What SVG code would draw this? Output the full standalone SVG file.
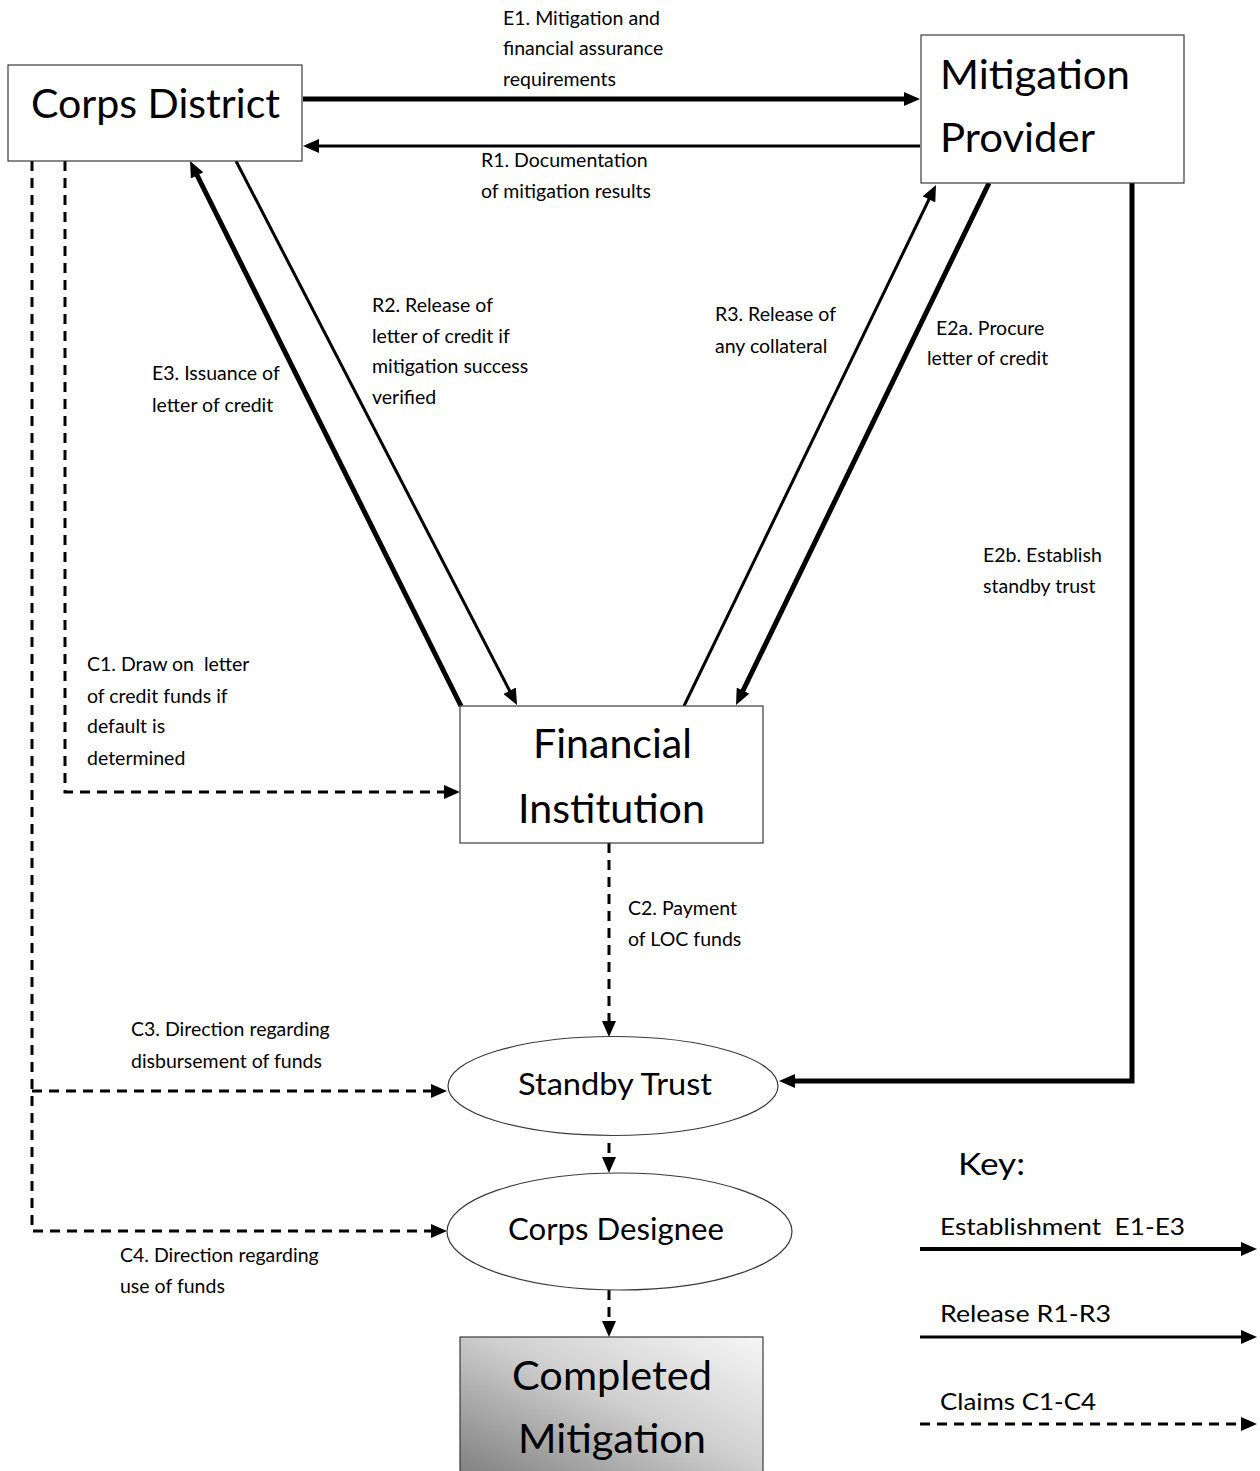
<svg xmlns="http://www.w3.org/2000/svg" width="1260" height="1471" viewBox="0 0 1260 1471">
<style>
text{font-family:Lato,"Open Sans","Liberation Sans",sans-serif;fill:#000}
.lbl{font-size:19.5px}
.big{font-size:40px}
.mid{font-size:30px}
.key{font-size:24px}
.box{fill:#fff;stroke:#3a3a3a;stroke-width:1.2}
.c{fill:none;stroke:#000}
.th{stroke-width:5}
.tn{stroke-width:3}
.ds{stroke-width:3;stroke-dasharray:10 7}
</style>
<defs>
<marker id="ah" markerUnits="userSpaceOnUse" markerWidth="16" markerHeight="14" refX="6" refY="7" orient="auto">
<path d="M0,0 L16,7 L0,14 z" fill="#000"/>
</marker>
<linearGradient id="gr" x1="0" y1="1" x2="1" y2="0">
<stop offset="0" stop-color="#7c7c7c"/>
<stop offset="0.55" stop-color="#d0d0d0"/>
<stop offset="1" stop-color="#f6f6f6"/>
</linearGradient>
</defs>

<g id="connectors">
<line class="c th" x1="303" y1="99" x2="910" y2="99" marker-end="url(#ah)"/>
<line class="c tn" x1="920" y1="146" x2="313" y2="146" marker-end="url(#ah)"/>
<line class="c th" x1="461" y1="706" x2="194.5" y2="170" marker-end="url(#ah)"/>
<line class="c tn" x1="236" y1="161" x2="512.4" y2="696.1" marker-end="url(#ah)"/>
<line class="c tn" x1="684" y1="706" x2="931.6" y2="194" marker-end="url(#ah)"/>
<line class="c th" x1="989" y1="183" x2="740.4" y2="696" marker-end="url(#ah)"/>
<polyline class="c th" points="1132,183 1132,1081 789,1081" marker-end="url(#ah)"/>
<polyline class="c ds" points="32,161 32,1231 437,1231" marker-end="url(#ah)"/>
<line class="c ds" x1="32" y1="1091" x2="437" y2="1091" marker-end="url(#ah)"/>
<polyline class="c ds" points="65,161 65,792 450,792" marker-end="url(#ah)"/>
<line class="c ds" x1="609" y1="843" x2="609" y2="1027" marker-end="url(#ah)"/>
<line class="c ds" x1="609" y1="1143" x2="609" y2="1163" marker-end="url(#ah)"/>
<line class="c ds" x1="609" y1="1290" x2="609" y2="1327" marker-end="url(#ah)"/>
</g>

<g id="labels">
<text class="lbl" x="503" y="25">E1. Mitigation and</text>
<text class="lbl" x="503" y="55">financial assurance</text>
<text class="lbl" x="503" y="86">requirements</text>
<text class="lbl" x="481" y="167">R1. Documentation</text>
<text class="lbl" x="481" y="198">of mitigation results</text>
<text class="lbl" x="372" y="312">R2. Release of</text>
<text class="lbl" x="372" y="343">letter of credit if</text>
<text class="lbl" x="372" y="373">mitigation success</text>
<text class="lbl" x="372" y="404">verified</text>
<text class="lbl" x="152" y="380">E3. Issuance of</text>
<text class="lbl" x="152" y="412">letter of credit</text>
<text class="lbl" x="715" y="321">R3. Release of</text>
<text class="lbl" x="715" y="353">any collateral</text>
<text class="lbl" x="936" y="335">E2a. Procure</text>
<text class="lbl" x="927" y="365">letter of credit</text>
<text class="lbl" x="983" y="562">E2b. Establish</text>
<text class="lbl" x="983" y="593">standby trust</text>
<text class="lbl" x="87" y="671" xml:space="preserve">C1. Draw on  letter</text>
<text class="lbl" x="87" y="703">of credit funds if</text>
<text class="lbl" x="87" y="733">default is</text>
<text class="lbl" x="87" y="765">determined</text>
<text class="lbl" x="628" y="915">C2. Payment</text>
<text class="lbl" x="628" y="946">of LOC funds</text>
<text class="lbl" x="131" y="1036">C3. Direction regarding</text>
<text class="lbl" x="131" y="1068">disbursement of funds</text>
<text class="lbl" x="120" y="1262">C4. Direction regarding</text>
<text class="lbl" x="120" y="1293">use of funds</text>
</g>

<g id="corps-district">
<rect class="box" x="8" y="65" width="294" height="96"/>
<text class="big" x="31" y="118" textLength="249" lengthAdjust="spacingAndGlyphs">Corps District</text>
</g>
<g id="mitigation-provider">
<rect class="box" x="921" y="35" width="263" height="148"/>
<text class="big" x="940" y="89" textLength="190" lengthAdjust="spacingAndGlyphs">Mitigation</text>
<text class="big" x="940" y="152" textLength="155" lengthAdjust="spacingAndGlyphs">Provider</text>
</g>
<g id="financial-institution">
<rect class="box" x="460" y="706" width="303" height="137"/>
<text class="big" x="533" y="758" textLength="159" lengthAdjust="spacingAndGlyphs">Financial</text>
<text class="big" x="518" y="823" textLength="187" lengthAdjust="spacingAndGlyphs">Institution</text>
</g>
<g id="standby-trust">
<ellipse class="box" cx="613" cy="1086" rx="165" ry="49.5"/>
<text class="mid" x="518" y="1095" textLength="194" lengthAdjust="spacingAndGlyphs">Standby Trust</text>
</g>
<g id="corps-designee">
<ellipse class="box" cx="619.5" cy="1231.5" rx="172.5" ry="58.5"/>
<text class="mid" x="508" y="1240" textLength="216" lengthAdjust="spacingAndGlyphs">Corps Designee</text>
</g>
<g id="completed-mitigation">
<rect x="460" y="1337" width="303" height="145" fill="url(#gr)" stroke="#3a3a3a" stroke-width="1.2"/>
<text class="big" x="512" y="1390" textLength="200" lengthAdjust="spacingAndGlyphs">Completed</text>
<text class="big" x="518" y="1453" textLength="188" lengthAdjust="spacingAndGlyphs">Mitigation</text>
</g>

<g id="key">
<text class="mid" x="958" y="1175" textLength="67" lengthAdjust="spacingAndGlyphs">Key:</text>
<text class="key" x="940" y="1235" textLength="245" lengthAdjust="spacingAndGlyphs" xml:space="preserve">Establishment  E1-E3</text>
<line class="c" stroke-width="4" x1="920" y1="1249" x2="1247" y2="1249" marker-end="url(#ah)"/>
<text class="key" x="940" y="1322" textLength="171" lengthAdjust="spacingAndGlyphs">Release R1-R3</text>
<line class="c tn" x1="920" y1="1337" x2="1247" y2="1337" marker-end="url(#ah)"/>
<text class="key" x="940" y="1410" textLength="156" lengthAdjust="spacingAndGlyphs">Claims C1-C4</text>
<line class="c ds" x1="920" y1="1424" x2="1247" y2="1424" marker-end="url(#ah)"/>
</g>
</svg>
